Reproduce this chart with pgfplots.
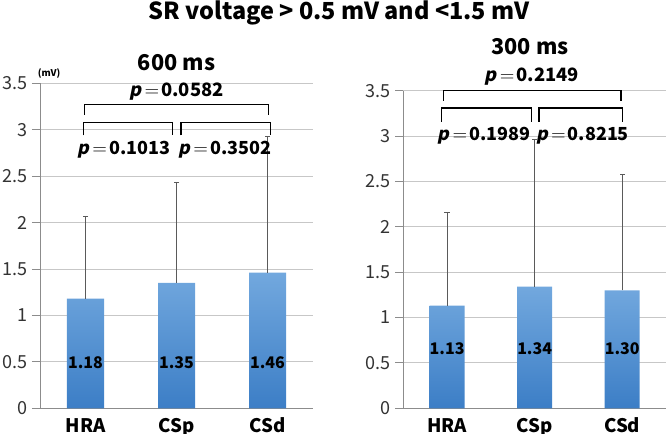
\documentclass[border=0pt]{standalone}
\usepackage{pgfplots}
\pgfplotsset{compat=1.18}
\usepackage{fontspec}
\setmainfont{Noto Sans CJK JP}
\newfontfamily\pfont{Noto Sans CJK JP}[FakeSlant=0.2]
\definecolor{bartop}{RGB}{114,168,222}
\definecolor{barbot}{RGB}{60,126,198}
\definecolor{errc}{RGB}{90,90,90}
\newcommand{\pv}[1]{{\pfont\bfseries p}\hspace{2.5pt}$=$\hspace{1.5pt}\textbf{#1}}
\pgfplotsset{mybar/.style={
  scale only axis, clip=false,
  ymin=0, ymax=3.5, ytick={0,0.5,...,3.5},
  xmin=-0.5, xmax=2.5, xtick={0,1,2}, xticklabels={HRA,CSp,CSd},
  x tick style={draw=none},
  ymajorgrids, grid style={draw=black!22, line width=0.6pt},
  axis x line*=bottom, axis y line*=left,
  axis line style={draw=black!45, line width=0.6pt, -},
  y tick style={draw=black!45, line width=0.6pt},
  tick align=outside, major tick length=6pt,
  /pgf/number format/assume math mode=true,
  yticklabel style={font=\fontsize{13.5}{14}\selectfont, text=black!80},
  xticklabel style={font=\fontsize{14}{14}\selectfont\bfseries, inner sep=0pt, anchor=base, yshift=-12pt},
  ybar,
}}
\begin{document}
\begin{tikzpicture}
\useasboundingbox (-30pt,-19.3pt) rectangle (469.5pt,306.2pt);
% ---------- 600 ms ----------
\begin{axis}[mybar, width=204.75pt, height=243.75pt, at={(0pt,0pt)}, anchor=south west, bar width=27.75pt]
\addplot[draw=none, top color=bartop, bottom color=barbot] coordinates {(0,1.18) (1,1.35) (2,1.46)};
\addplot[draw=none, fill=none, forget plot, bar shift=0pt,
  error bars/.cd, y dir=plus, y explicit, error mark=none,
  error bar style={draw=errc, line width=0.6pt}]
  coordinates {(0,1.18) +- (0,0.89) (1,1.35) +- (0,1.08) (2,1.46) +- (0,1.47)};
\addplot[only marks, mark=-, mark size=2pt, mark options={draw=errc, line width=0.6pt}, forget plot]
  coordinates {(0,2.07) (1,2.43) (2,2.93)};
\node[font=\fontsize{12}{12}\selectfont\bfseries] at (axis cs:0,0.49) {1.18};
\node[font=\fontsize{12}{12}\selectfont\bfseries] at (axis cs:1,0.49) {1.35};
\node[font=\fontsize{12}{12}\selectfont\bfseries] at (axis cs:2,0.49) {1.46};
\draw[line width=0.9pt] (axis cs:-0.01,3.16) -- (axis cs:-0.01,3.27) -- (axis cs:2.01,3.27) -- (axis cs:2.01,3.16);
\draw[line width=0.9pt] (axis cs:-0.02,2.94) -- (axis cs:-0.02,3.08) -- (axis cs:0.96,3.08) -- (axis cs:0.96,2.94);
\draw[line width=0.9pt] (axis cs:1.05,2.94) -- (axis cs:1.05,3.08) -- (axis cs:2.03,3.08) -- (axis cs:2.03,2.94);
\node[font=\fontsize{13.8}{14}\selectfont] at (axis cs:1.0,3.41) {\pv{0.0582}};
\node[font=\fontsize{13.5}{14}\selectfont] at (axis cs:0.42,2.78) {\pv{0.1013}};
\node[font=\fontsize{13.5}{14}\selectfont] at (axis cs:1.53,2.78) {\pv{0.3502}};
\node[font=\fontsize{16.3}{17}\selectfont\bfseries] at (axis cs:1.0,3.72) {600 ms};
\node[font=\fontsize{7}{8}\selectfont\bfseries] at (axis cs:-0.40,3.61) {(mV)};
\end{axis}
% ---------- 300 ms ----------
\begin{axis}[mybar, width=197pt, height=238.2pt, at={(272.5pt,0pt)}, anchor=south west, bar width=26.25pt]
\addplot[draw=none, top color=bartop, bottom color=barbot] coordinates {(0,1.13) (1,1.34) (2,1.30)};
\addplot[draw=none, fill=none, forget plot, bar shift=0pt,
  error bars/.cd, y dir=plus, y explicit, error mark=none,
  error bar style={draw=errc, line width=0.6pt}]
  coordinates {(0,1.13) +- (0,1.03) (1,1.34) +- (0,1.62) (2,1.30) +- (0,1.28)};
\addplot[only marks, mark=-, mark size=2pt, mark options={draw=errc, line width=0.6pt}, forget plot]
  coordinates {(0,2.16) (1,2.96) (2,2.58)};
\node[font=\fontsize{12}{12}\selectfont\bfseries] at (axis cs:0,0.66) {1.13};
\node[font=\fontsize{12}{12}\selectfont\bfseries] at (axis cs:1,0.66) {1.34};
\node[font=\fontsize{12}{12}\selectfont\bfseries] at (axis cs:2,0.66) {1.30};
\draw[line width=0.9pt] (axis cs:-0.04,3.39) -- (axis cs:-0.04,3.5) -- (axis cs:1.985,3.5) -- (axis cs:1.985,3.39);
\draw[line width=0.9pt] (axis cs:-0.06,3.16) -- (axis cs:-0.06,3.31) -- (axis cs:0.96,3.31) -- (axis cs:0.96,3.16);
\draw[line width=0.9pt] (axis cs:1.05,3.16) -- (axis cs:1.05,3.31) -- (axis cs:2.0,3.31) -- (axis cs:2.0,3.16);
\node[font=\fontsize{13.8}{14}\selectfont] at (axis cs:0.966,3.65) {\pv{0.2149}};
\node[font=\fontsize{13.5}{14}\selectfont] at (axis cs:0.42,3.0) {\pv{0.1989}};
\node[font=\fontsize{13.5}{14}\selectfont] at (axis cs:1.546,3.0) {\pv{0.8215}};
\node[font=\fontsize{16.3}{17}\selectfont\bfseries] at (axis cs:0.946,3.98) {300 ms};
\end{axis}
\node[font=\fontsize{17.6}{18}\selectfont\bfseries, inner sep=0pt, text height=12.5pt, text depth=4pt, anchor=base] at (224.25pt,291.5pt) {SR voltage > 0.5 mV and <1.5 mV};
\end{tikzpicture}
\end{document}
